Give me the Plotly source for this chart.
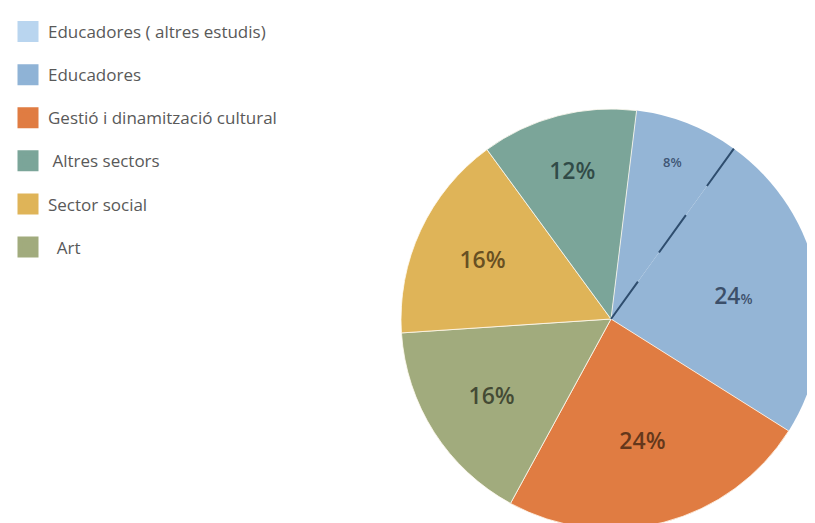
import math
import plotly.graph_objects as go

# ---- data ----
labels = ["Educadores ( altres estudis)", "Educadores", "Gestió i dinamització cultural",
          "Art", "Sector social", "Altres sectors"]
values = [8, 24, 24, 16, 16, 12]
legend_order = ["Educadores ( altres estudis)", "Educadores", "Gestió i dinamització cultural",
                "Altres sectors", "Sector social", "Art"]
legend_text = {"Educadores ( altres estudis)": "Educadores ( altres estudis)",
               "Educadores": "Educadores",
               "Gestió i dinamització cultural": "Gestió i dinamització cultural",
               "Altres sectors": "\u00a0Altres sectors",
               "Sector social": "Sector social",
               "Art": "\u00a0\u00a0Art"}

# ---- styles ----
slice_colors = {"Educadores ( altres estudis)": "#94b5d6", "Educadores": "#94b5d6",
                "Gestió i dinamització cultural": "#e07c42", "Art": "#a1ab7d",
                "Sector social": "#dfb458", "Altres sectors": "#7ba599"}
legend_colors = dict(slice_colors)
legend_colors["Educadores ( altres estudis)"] = "#b9d5ef"
legend_colors["Educadores"] = "#8fb3d6"
text_sizes = [13, 23, 23, 23, 23, 23]
pct_sizes = [13, 14, 23, 23, 23, 23]
text_colors = ["rgba(40,60,90,0.8)", "rgba(30,45,70,0.75)", "rgba(45,25,10,0.7)",
               "rgba(25,30,20,0.7)", "rgba(50,35,10,0.7)", "rgba(20,40,40,0.72)"]
line_widths = [0, 0, 1, 1, 1, 1]

W, H = 815, 523
CX, CY, R = 603, 311, 210   # figure coords (page body adds an 8px offset)
ROT = 7

texts = [f"{v}<span style='font-size:{p}px'>%</span>" for v, p in zip(values, pct_sizes)]

fig = go.Figure()
fig.add_trace(go.Pie(
    labels=labels, values=values, sort=False, direction="clockwise", rotation=ROT,
    text=texts, textinfo="text", textposition="inside", insidetextorientation="horizontal",
    marker=dict(colors=[slice_colors[l] for l in labels],
                line=dict(color="rgba(255,250,240,0.8)", width=line_widths)),
    textfont=dict(family="Open Sans", size=text_sizes, color=text_colors, weight=600),
    domain=dict(x=[(CX - R) / W, (CX + R) / W], y=[1 - (CY + R) / H, 1 - (CY - R) / H]),
    showlegend=False, hoverinfo="label+percent",
))

for name in legend_order:
    fig.add_trace(go.Scatter(
        x=[None], y=[None], mode="markers", name=legend_text[name], legendgroup=name,
        marker=dict(symbol="square", size=16, color=legend_colors[name],
                    line=dict(color=legend_colors[name], width=5)),
    ))

# dashed separator between the two "Educadores" slices, from data
theta = math.radians(ROT + 360 * values[0] / sum(values))
fig.add_shape(type="line", xref="paper", yref="paper",
              x0=CX / W, y0=1 - CY / H,
              x1=(CX + R * math.sin(theta)) / W, y1=1 - (CY - R * math.cos(theta)) / H,
              line=dict(color="#2e4d6e", width=2, dash="46px,36px"))

fig.update_layout(
    width=W, height=H, margin=dict(l=0, r=0, t=0, b=0),
    paper_bgcolor="white", plot_bgcolor="white",
    xaxis=dict(visible=False), yaxis=dict(visible=False),
    font=dict(family="Open Sans"),
    legend=dict(x=0, y=1 - 6 / H, xanchor="left", yanchor="top", tracegroupgap=18,
                itemwidth=30,
                font=dict(family="Open Sans", size=17, color="#595959"),
                bgcolor="rgba(0,0,0,0)", itemclick=False),
)

fig.write_html("out.html")
